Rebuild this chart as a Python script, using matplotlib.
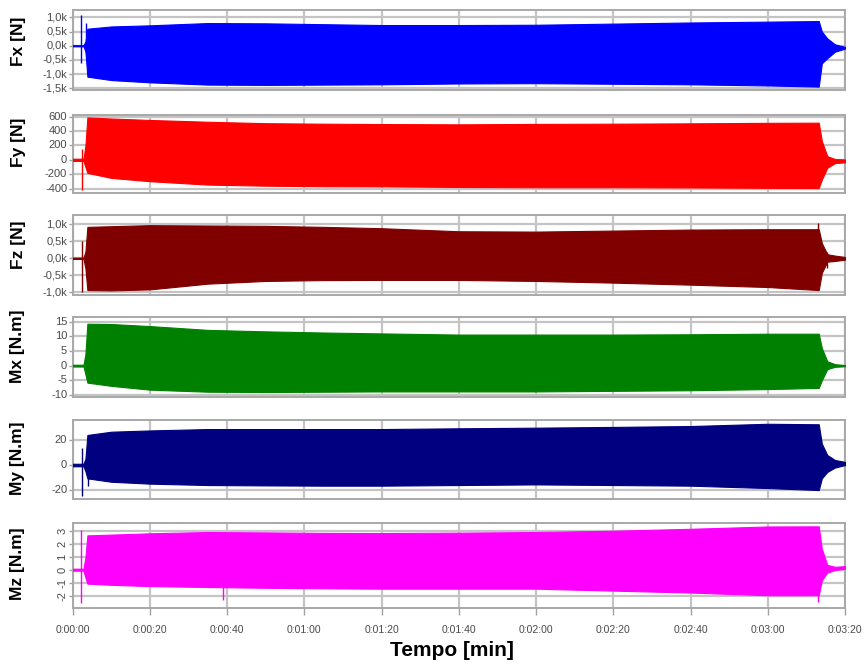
import matplotlib
matplotlib.use("Agg")
import matplotlib.pyplot as plt

plt.rcParams['font.family'] = ['Liberation Sans', 'DejaVu Sans']

# Envelope of each signal (upper / lower), time in seconds
t_env = [0, 2.8, 3.3, 3.8, 10, 20, 35, 50, 65, 80, 100, 120, 140, 160, 180, 193.2, 194.0, 195.4, 197.4, 200]

fx_up = [20, 20, 150, 600, 680, 720, 800, 790, 760, 730, 730, 740, 780, 820, 850, 870, 500, 260, 50, -40]
fx_lo = [-20, -20, -200, -1090, -1210, -1290, -1370, -1380, -1370, -1360, -1330, -1320, -1340, -1360, -1400, -1440, -620, -440, -210, -100]

fy_up = [15, 15, 200, 590, 575, 555, 530, 510, 503, 498, 494, 500, 503, 508, 515, 517, 261, 52, 10, 5]
fy_lo = [-15, -15, -100, -182, -252, -298, -345, -360, -368, -370, -378, -382, -382, -385, -390, -392, -275, -112, -45, -35]

fz_up = [20, 20, 200, 930, 950, 980, 970, 960, 930, 890, 800, 790, 820, 850, 860, 860, 450, 120, 80, 40]
fz_lo = [-20, -20, -300, -940, -950, -920, -750, -670, -645, -640, -640, -670, -720, -780, -850, -940, -430, -100, -80, -40]

mx_up = [0.3, 0.3, 4.0, 14.3, 14.2, 13.5, 12.2, 11.7, 11.3, 11.0, 10.6, 10.6, 10.6, 10.7, 10.9, 10.9, 6.0, 1.5, 0.5, 0.2]
mx_lo = [-0.3, -0.3, -3.0, -5.8, -6.9, -8.2, -8.9, -9.0, -8.9, -8.8, -8.8, -8.8, -8.6, -8.4, -8.0, -7.6, -5.0, -1.2, -0.4, -0.2]

my_up = [1, 1, 5, 23.9, 26.5, 27.5, 28.6, 28.6, 28.6, 28.6, 29.2, 29.7, 30.3, 31.0, 32.8, 32.4, 17.0, 8.0, 4.0, 2.5]
my_lo = [-1, -1, -5, -10.6, -13.3, -14.8, -15.9, -16.2, -16.4, -16.4, -15.9, -15.4, -15.9, -16.4, -18.3, -19.9, -10.6, -5.5, -2.0, 0.0]

mz_up = [0.1, 0.1, 1.0, 2.69, 2.75, 2.85, 2.95, 2.92, 2.88, 2.87, 2.9, 2.95, 3.05, 3.2, 3.38, 3.39, 1.65, 0.4, 0.25, 0.3]
mz_lo = [-0.05, -0.05, -0.6, -1.06, -1.15, -1.25, -1.32, -1.38, -1.42, -1.45, -1.45, -1.45, -1.6, -1.75, -1.96, -1.96, -0.8, -0.2, 0.0, 0.1]

# Isolated spikes (time, low, high)
fx_spike_t, fx_spike_lo, fx_spike_hi = [2.2, 3.5], [-600, -300], [1100, 800]
fy_spike_t, fy_spike_lo, fy_spike_hi = [2.3], [-415], [150]
fz_spike_t, fz_spike_lo, fz_spike_hi = [2.4, 192.9, 195.4], [-1000, -200, -300], [500, 1050, 200]
mx_spike_t, mx_spike_lo, mx_spike_hi = [], [], []
my_spike_t, my_spike_lo, my_spike_hi = [2.3, 4.0], [-25, -17], [13.5, 5]
mz_spike_t, mz_spike_lo, mz_spike_hi = [2.2, 38.8, 193.0], [-2.56, -2.35, -2.5], [3.1, -1.0, 1.0]

# Axis ticks
fx_ticks = [1000, 500, 0, -500, -1000, -1500]
fx_ticklabels = ["1,0k", "0,5k", "0,0k", "-0,5k", "-1,0k", "-1,5k"]
fy_ticks = [600, 400, 200, 0, -200, -400]
fz_ticks = [1000, 500, 0, -500, -1000]
fz_ticklabels = ["1,0k", "0,5k", "0,0k", "-0,5k", "-1,0k"]
mx_ticks = [15, 10, 5, 0, -5, -10]
my_ticks = [20, 0, -20]
mz_ticks = [3, 2, 1, 0, -1, -2]

x_ticks = [0, 20, 40, 60, 80, 100, 120, 140, 160, 180, 200]
x_ticklabels = ["0:00:00", "0:00:20", "0:00:40", "0:01:00", "0:01:20", "0:01:40",
                "0:02:00", "0:02:20", "0:02:40", "0:03:00", "0:03:20"]

labels = ["Fx [N]", "Fy [N]", "Fz [N]", "Mx [N.m]", "My [N.m]", "Mz [N.m]"]
colors = ["#0000ff", "#ff0000", "#800000", "#008000", "#000080", "#ff00ff"]

panels = [
    (fx_up, fx_lo, fx_spike_t, fx_spike_lo, fx_spike_hi, fx_ticks, fx_ticklabels, (-1560, 1260)),
    (fy_up, fy_lo, fy_spike_t, fy_spike_lo, fy_spike_hi, fy_ticks, [str(v) for v in fy_ticks], (-462, 624)),
    (fz_up, fz_lo, fz_spike_t, fz_spike_lo, fz_spike_hi, fz_ticks, fz_ticklabels, (-1086, 1281)),
    (mx_up, mx_lo, mx_spike_t, mx_spike_lo, mx_spike_hi, mx_ticks, [str(v) for v in mx_ticks], (-10.7, 16.6)),
    (my_up, my_lo, my_spike_t, my_spike_lo, my_spike_hi, my_ticks, [str(v) for v in my_ticks], (-27.0, 35.8)),
    (mz_up, mz_lo, mz_spike_t, mz_spike_lo, mz_spike_hi, mz_ticks, [str(v) for v in mz_ticks], (-2.95, 3.65)),
]

# panel frames in pixels (top, bottom) and label centres
W, H = 864, 666
frames = [(10, 90), (115, 193), (215, 295), (317, 397), (420, 499), (523, 608)]
label_y = [41, 142, 245, 346, 458, 564]
left_px, right_px = 72.7, 845

fig = plt.figure(figsize=(W / 100, H / 100), dpi=100)
fig.patch.set_facecolor("white")

for i, (up, lo, st, slo, shi, ticks, ticklabels, ylim) in enumerate(panels):
    top, bot = frames[i]
    ax = fig.add_axes([left_px / W, 1 - bot / H, (right_px - left_px) / W, (bot - top) / H])
    c = colors[i]
    ax.fill_between(t_env, lo, up, color=c, lw=0.8, zorder=3)
    if st:
        ax.vlines(st, slo, shi, color=c, lw=1.0, zorder=3)

    ax.set_xlim(0, 200)
    ax.set_ylim(*ylim)
    ax.set_xticks(x_ticks)
    ax.set_yticks(ticks)
    ax.set_yticklabels(ticklabels, rotation=90 if i == 5 else 0,
                       va="center")
    ax.grid(True, color="#c4c4c4", lw=1.6)
    ax.set_axisbelow(True)
    for s in ax.spines.values():
        s.set_color("#a8a8a8")
        s.set_linewidth(1.4)
    ax.tick_params(axis="y", length=3, width=1, color="#a0a0a0",
                   labelsize=8, labelcolor="#4a4a4a", pad=1)
    if i == 5:
        ax.set_xticklabels(x_ticklabels)
        ax.tick_params(axis="x", length=5, width=1, color="#a0a0a0",
                       labelsize=7.5, labelcolor="#4a4a4a", pad=7)
    else:
        ax.tick_params(axis="x", length=0, labelbottom=False)

    fig.text(18 / W, 1 - label_y[i] / H, labels[i], rotation=90,
             fontsize=12.5, fontweight="bold", ha="center", va="center")

fig.text(452 / W, 1 - 651 / H, "Tempo [min]", fontsize=15, fontweight="bold",
         ha="center", va="center")

fig.savefig("out.png", dpi=100)
